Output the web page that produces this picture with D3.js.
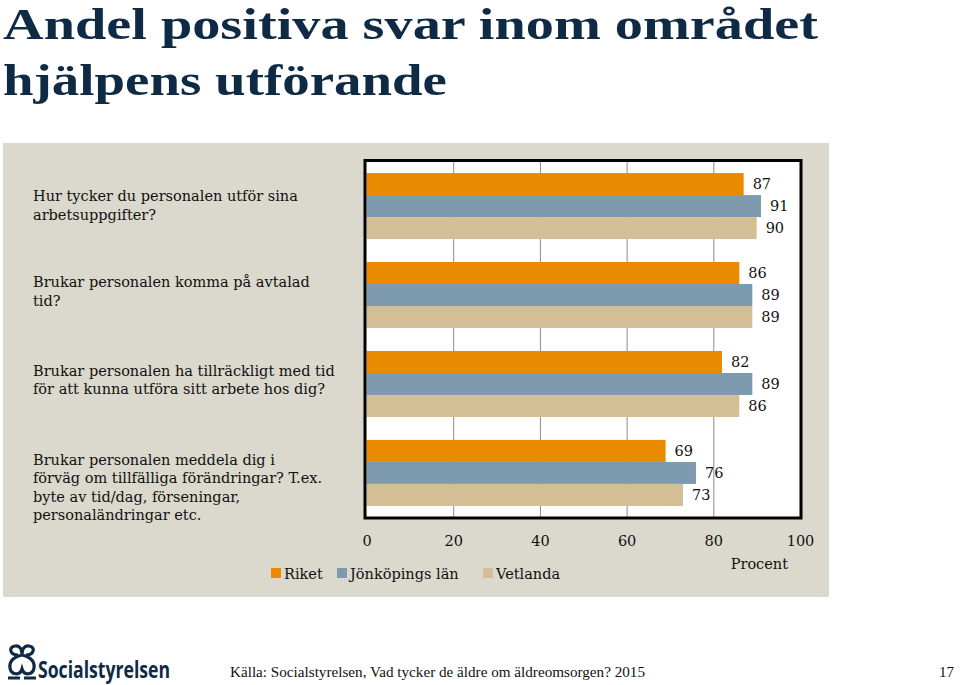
<!DOCTYPE html>
<html><head><meta charset="utf-8">
<script src="https://cdn.jsdelivr.net/npm/d3@7"></script>
<style>
html,body{margin:0;padding:0;background:#fff;}
svg{display:block;}
</style></head>
<body>
<svg id="chart" width="960" height="685"></svg>
<script>
// ---------- data ----------
const categories = [
  ["Hur tycker du personalen utför sina", "arbetsuppgifter?"],
  ["Brukar personalen komma på avtalad", "tid?"],
  ["Brukar personalen ha tillräckligt med tid", "för att kunna utföra sitt arbete hos dig?"],
  ["Brukar personalen meddela dig i", "förväg om tillfälliga förändringar? T.ex.", "byte av tid/dag, förseningar,", "personaländringar etc."]
];
const seriesNames = ["Riket", "Jönköpings län", "Vetlanda"];
const riket = [87, 86, 82, 69];
const jonkoping = [91, 89, 89, 76];
const vetlanda = [90, 89, 86, 73];
const tickValues = [0, 20, 40, 60, 80, 100];
const titleLines = ["Andel positiva svar inom området", "hjälpens utförande"];
const axisTitle = "Procent";
const sourceText = "Källa: Socialstyrelsen, Vad tycker de äldre om äldreomsorgen? 2015";
const pageNumber = "17";

// ---------- styles ----------
const colors = ["#EA8A00", "#7E9AAE", "#D4BE96"];
const serif = "'Liberation Serif','DejaVu Serif',serif";
const bodySerif = "'DejaVu Serif','Liberation Serif',serif";
const navy = "#0E2A44";
const fs = 14.5;

const svg = d3.select("#chart");
const values = [riket, jonkoping, vetlanda];

// title
svg.selectAll("text.title").data(titleLines).join("text")
  .attr("class", "title")
  .attr("x", 3)
  .attr("y", (d, i) => 39 + i * 56)
  .attr("font-family", serif)
  .attr("font-weight", "bold")
  .attr("font-size", 44)
  .attr("fill", navy)
  .attr("textLength", (d, i) => i === 0 ? 815 : 444)
  .attr("lengthAdjust", "spacingAndGlyphs")
  .text(d => d);

// gray panel
svg.append("rect").attr("x", 3).attr("y", 143).attr("width", 826).attr("height", 454).attr("fill", "#DBD8CE");

// scales
const x = d3.scaleLinear().domain([0, 100]).range([366.5, 800]);
const y = d3.scaleBand().domain(d3.range(categories.length)).range([161.5, 517.5])
  .paddingInner(0.258).paddingOuter(0.13);
const ys = d3.scaleBand().domain(d3.range(seriesNames.length)).range([0, y.bandwidth()]);

// plot background
svg.append("rect").attr("x", 365).attr("y", 160.5).attr("width", 436).attr("height", 357.5).attr("fill", "#fff");

// gridlines
const grid = svg.append("g").attr("transform", "translate(0,517)")
  .call(d3.axisBottom(x).tickValues(tickValues.slice(1, -1)).tickSize(-356).tickFormat(""));
grid.select(".domain").remove();
grid.selectAll("line").attr("stroke", "#8a8a8a").attr("stroke-width", 1);

// bars
const groups = svg.selectAll("g.grp").data(categories).join("g")
  .attr("class", "grp")
  .attr("transform", (d, i) => `translate(0,${y(i)})`);

groups.each(function (cat, ci) {
  const g = d3.select(this);
  seriesNames.forEach((s, si) => {
    const v = values[si][ci];
    g.append("rect")
      .attr("x", x(0)).attr("y", ys(si))
      .attr("width", x(v) - x(0)).attr("height", ys.bandwidth())
      .attr("fill", colors[si]);
    g.append("text")
      .attr("x", x(v) + 9).attr("y", ys(si) + ys.bandwidth() / 2 + 5)
      .attr("font-family", bodySerif).attr("font-size", fs).attr("fill", "#111")
      .text(v);
  });
});

// frame
svg.append("rect").attr("x", 365).attr("y", 160.5).attr("width", 436).attr("height", 357.5)
  .attr("fill", "none").attr("stroke", "#000").attr("stroke-width", 3);

// axis labels
const ax = svg.append("g").attr("transform", "translate(0,533)")
  .call(d3.axisBottom(x).tickValues(tickValues).tickSize(0).tickFormat(d => d));
ax.select(".domain").remove();
ax.selectAll("text").attr("font-family", bodySerif).attr("font-size", fs).attr("fill", "#111");

svg.append("text").attr("x", 788).attr("y", 569).attr("text-anchor", "end")
  .attr("font-family", bodySerif).attr("font-size", fs).attr("fill", "#111").text(axisTitle);

// category labels
svg.selectAll("g.cat").data(categories).join("g").attr("class", "cat")
  .each(function (lines, ci) {
    const top = y(ci) + (ci === 0 ? 23 : 20) + 5;
    d3.select(this).selectAll("text").data(lines).join("text")
      .attr("x", 33)
      .attr("y", (d, i) => top + i * 18.5)
      .attr("font-family", bodySerif).attr("font-size", fs).attr("fill", "#111")
      .text(d => d);
  });

// legend
const legendX = [271, 337, 483];
const lg = svg.selectAll("g.leg").data(seriesNames).join("g").attr("class", "leg")
  .attr("transform", (d, i) => `translate(${legendX[i]},568)`);
lg.append("rect").attr("width", 10).attr("height", 10).attr("fill", (d, i) => colors[i]);
lg.append("text").attr("x", 13).attr("y", 11)
  .attr("font-family", bodySerif).attr("font-size", fs).attr("fill", "#111").text(d => d);

// footer logo
const logo = svg.append("g").attr("transform", "translate(6,645)").attr("fill", "none")
  .attr("stroke", navy).attr("stroke-width", 3.2);
logo.append("path").attr("d", "M12,10 C4,10 2,2 9,1 C14,0 16,5 16,9 C16,5 18,0 23,1 C30,2 28,10 20,10");
logo.append("path").attr("d", "M16,10 C8,12 3,16 4,23 C5,30 14,31 16,24 C18,31 27,30 28,23 C29,16 24,12 16,10");
logo.append("path").attr("d", "M2,33 L14,33 M18,33 L30,33");
svg.append("text").attr("x", 38).attr("y", 678)
  .attr("font-family", "'Open Sans','DejaVu Sans',sans-serif").attr("font-weight", "bold")
  .attr("font-size", 23).attr("fill", navy).attr("textLength", 132).attr("lengthAdjust", "spacingAndGlyphs")
  .text("Socialstyrelsen");

svg.append("text").attr("x", 230).attr("y", 677)
  .attr("font-family", serif).attr("font-size", 15).attr("fill", "#111")
  .attr("textLength", 415).attr("lengthAdjust", "spacingAndGlyphs").text(sourceText);
svg.append("text").attr("x", 954).attr("y", 677).attr("text-anchor", "end")
  .attr("font-family", serif).attr("font-size", 15).attr("fill", "#111").text(pageNumber);
</script>
</body></html>
